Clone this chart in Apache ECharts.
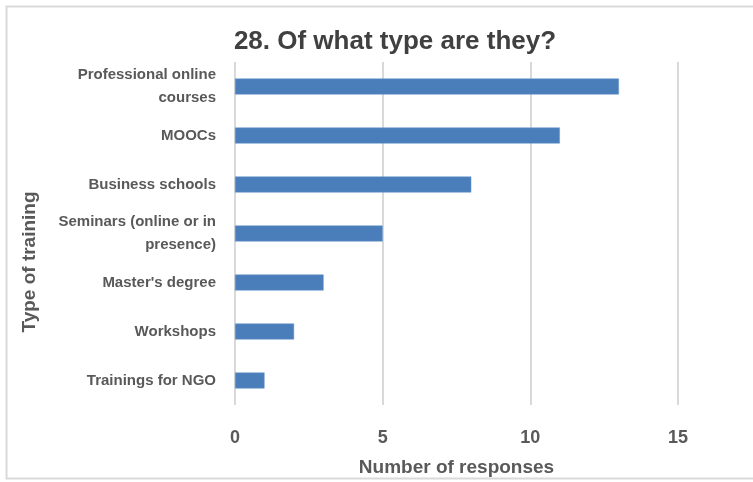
<!DOCTYPE html>
<html>
<head>
<meta charset="utf-8">
<script src="https://cdn.jsdelivr.net/npm/echarts@6/dist/echarts.min.js"></script>
<style>
html,body{margin:0;padding:0;background:#fff;}
#chart{width:753px;height:482px;}
</style>
</head>
<body>
<div id="chart"></div>
<script>
var categories = [
  "Professional online\ncourses",
  "MOOCs",
  "Business schools",
  "Seminars (online or in\npresence)",
  "Master's degree",
  "Workshops",
  "Trainings for NGO"
];
var responses = [13, 11, 8, 5, 3, 2, 1];
var xTicks = [0, 5, 10, 15];

var FONT = '"Liberation Sans", Arial, sans-serif';
var chart = echarts.init(document.getElementById('chart'));
chart.setOption({
  animation: false,
  backgroundColor: '#ffffff',
  graphic: [{
    type: 'rect',
    shape: {x: 6.5, y: 6.5, width: 760, height: 472},
    style: {fill: 'none', stroke: '#d9d9d9', lineWidth: 2},
    silent: true
  }, {
    type: 'text',
    x: 30, y: 262,
    rotation: Math.PI / 2,
    style: {
      text: 'Type of training',
      fontFamily: FONT, fontSize: 19, fontWeight: 'bold', fill: '#595959',
      align: 'center', verticalAlign: 'middle'
    },
    silent: true
  }],
  title: {
    text: '28. Of what type are they?',
    left: 390, top: 24, textAlign: 'center',
    textStyle: {fontFamily: FONT, fontSize: 26, fontWeight: 'bold', color: '#404040'}
  },
  grid: {left: 235, right: 75, top: 62, bottom: 77},
  xAxis: {
    type: 'value',
    min: xTicks[0], max: xTicks[xTicks.length - 1], interval: 5,
    name: 'Number of responses',
    nameLocation: 'middle', nameGap: 53,
    nameTextStyle: {fontFamily: FONT, fontSize: 19, fontWeight: 'bold', color: '#595959'},
    axisLine: {show: false},
    axisTick: {show: false},
    axisLabel: {fontFamily: FONT, fontSize: 18, fontWeight: 'bold', color: '#595959', margin: 24},
    splitLine: {show: true, lineStyle: {color: '#d9d9d9', width: 2}}
  },
  yAxis: {
    type: 'category',
    data: categories,
    inverse: true,
    axisLine: {show: false},
    axisTick: {show: false},
    axisLabel: {fontFamily: FONT, fontSize: 15, fontWeight: 'bold', color: '#595959', margin: 19, lineHeight: 23, align: 'right'}
  },
  series: [{
    type: 'bar',
    data: responses,
    barWidth: 16,
    itemStyle: {color: '#4a7ebb', borderColor: '#6a96c8', borderWidth: 0.5}
  }]
});
</script>
</body>
</html>
